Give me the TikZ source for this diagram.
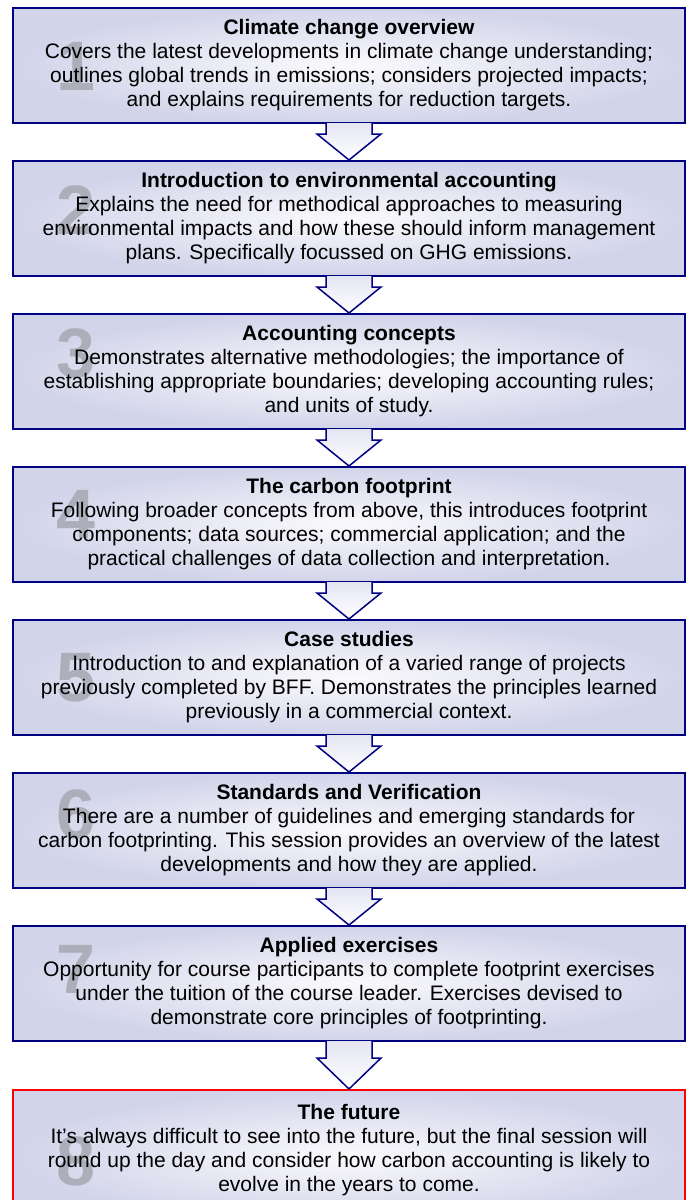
\documentclass[tikz,border=0pt]{standalone}
\usepackage{fontspec}
\setmainfont{Liberation Sans}
\usetikzlibrary{calc,positioning}
\definecolor{boxnavy}{RGB}{0,0,128}
\definecolor{boxred}{RGB}{255,0,0}
\definecolor{boxedge}{RGB}{210,212,234}
\definecolor{boxmid}{RGB}{250,250,252}
\definecolor{numgray}{RGB}{174,174,186}

\begin{document}
\begin{tikzpicture}[x=1pt,y=1pt,
    session/.style 2 args={rectangle,draw=boxnavy,line width=2pt,
        minimum width=672pt,minimum height=115pt,inner sep=0pt,align=center,
        inner color=boxmid,outer color=boxedge,
        font=\fontsize{21}{24}\selectfont,
        path picture={\node[big number] at ($(path picture bounding box.north west)+(42,-#2)$) {#1};}}]
    \tikzstyle{big number}=[anchor=base west,inner sep=0pt,minimum width=0pt,minimum height=0pt,
        text=numgray,font=\fontsize{70}{70}\selectfont\bfseries]
    \tikzstyle{down arrow}=[draw=boxnavy,line width=1.5pt,top color=boxedge!60,bottom color=white,line join=miter]

    \useasboundingbox (0,0) rectangle (688,-1200);

    \node(s1)[session={1}{82}] at (349,-65.5) {\textbf{Climate change overview}\\
        Covers the latest developments in climate change understanding;\\
        outlines global trends in emissions; considers projected impacts;\\
        and explains requirements for reduction targets.};
    \node(s2)[session={2}{73},below=36pt of s1] {\textbf{Introduction to environmental accounting}\\
        Explains the need for methodical approaches to measuring\\
        environmental impacts and how these should inform management\\
        plans. Specifically focussed on GHG emissions.};
    \node(s3)[session={3}{63},below=36pt of s2] {\textbf{Accounting concepts}\\
        Demonstrates alternative methodologies; the importance of\\
        establishing appropriate boundaries; developing accounting rules;\\
        and units of study.};
    \node(s4)[session={4}{71},below=36pt of s3] {\textbf{The carbon footprint}\\
        Following broader concepts from above, this introduces footprint\\
        components; data sources; commercial application; and the\\
        practical challenges of data collection and interpretation.};
    \node(s5)[session={5}{81},below=36pt of s4] {\textbf{Case studies}\\
        Introduction to and explanation of a varied range of projects\\
        previously completed by BFF. Demonstrates the principles learned\\
        previously in a commercial context.};
    \node(s6)[session={6}{65},below=36pt of s5] {\textbf{Standards and Verification}\\
        There are a number of guidelines and emerging standards for\\
        carbon footprinting. This session provides an overview of the latest\\
        developments and how they are applied.};
    \node(s7)[session={7}{67},below=36pt of s6] {\textbf{Applied exercises}\\
        Opportunity for course participants to complete footprint exercises\\
        under the tuition of the course leader. Exercises devised to\\
        demonstrate core principles of footprinting.};
    % last session, outlined in red
    \node(s8)[session={8}{95},draw=boxred,minimum height=132pt,below=47pt of s7] {\textbf{The future}\\
        It’s always difficult to see into the future, but the final session will\\
        round up the day and consider how carbon accounting is likely to\\
        evolve in the years to come.\\[-7pt]\mbox{}};

    % block arrows between the sessions
    \foreach \a/\b/\l in {s1/s2/10,s2/s3/10,s3/s4/10,s4/s5/10,s5/s6/10,s6/s7/10,s7/s8/16}
        \path[down arrow] ($(\a.south)+(-23,1)$) -- ++(0,-\l-1) -- ++(-9,0) -- (\b.north)
            -- ($(\a.south)+(32,-\l)$) -- ++(-9,0) -- ($(\a.south)+(23,1)$);
\end{tikzpicture}
\end{document}
